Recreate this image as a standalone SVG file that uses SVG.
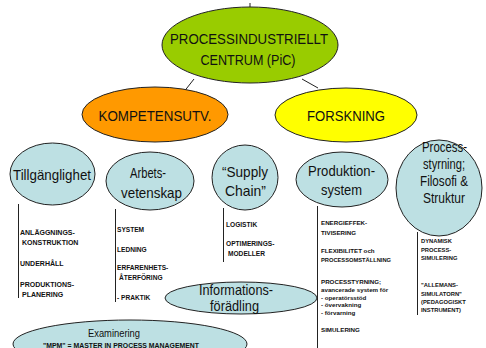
<svg xmlns="http://www.w3.org/2000/svg" width="486" height="348" viewBox="0 0 486 348">
<style>
.n{stroke:#222;stroke-width:1}
.b{fill:#bde0e3}
.t{font-family:"Liberation Sans",Arial,sans-serif;font-size:14.5px;fill:#111;text-anchor:middle}
.s{font-family:"Liberation Sans",Arial,sans-serif;font-weight:bold;fill:#111}
.c{stroke:#222;stroke-width:1;fill:none}
</style>
<rect width="486" height="348" fill="#fff"/>
<g id="connectors">
<line class="c" x1="250" y1="3" x2="250" y2="8"/>
<line class="c" x1="194" y1="79" x2="183" y2="93"/>
<line class="c" x1="302" y1="79" x2="318" y2="88"/>
<line class="c" x1="18.5" y1="204" x2="18.5" y2="298"/>
<line class="c" x1="115.5" y1="209" x2="115.5" y2="302"/>
<line class="c" x1="223.5" y1="208" x2="223.5" y2="262"/>
<line class="c" x1="317.5" y1="206" x2="317.5" y2="348"/>
<line class="c" x1="417.5" y1="232" x2="417.5" y2="315"/>
</g>
<g id="pic">
<ellipse class="n" cx="250" cy="45" rx="88" ry="38" fill="#99cc00"/>
<text class="t" x="249" y="43.5" textLength="158" lengthAdjust="spacingAndGlyphs">PROCESSINDUSTRIELLT</text>
<text class="t" x="248" y="64.5" textLength="95" lengthAdjust="spacingAndGlyphs">CENTRUM (PiC)</text>
</g>
<g id="kompetens">
<ellipse class="n" cx="155" cy="114.5" rx="73" ry="27.5" fill="#ff9900"/>
<text class="t" x="155" y="120.5" textLength="113" lengthAdjust="spacingAndGlyphs">KOMPETENSUTV.</text>
</g>
<g id="forskning">
<ellipse class="n" cx="346" cy="115" rx="71" ry="27" fill="#ffff00"/>
<text class="t" x="346" y="120.5" textLength="78" lengthAdjust="spacingAndGlyphs">FORSKNING</text>
</g>
<g id="tillganglighet">
<ellipse class="n b" cx="52.5" cy="174" rx="42.5" ry="31"/>
<text class="t" x="52" y="180" textLength="78" lengthAdjust="spacingAndGlyphs">Tillgänglighet</text>
</g>
<g id="arbetsvetenskap">
<ellipse class="n b" cx="150" cy="181" rx="44" ry="29"/>
<text class="t" x="148" y="178" textLength="36" lengthAdjust="spacingAndGlyphs">Arbets-</text>
<text class="t" x="151.5" y="198" textLength="61" lengthAdjust="spacingAndGlyphs">vetenskap</text>
</g>
<g id="supplychain">
<ellipse class="n b" cx="245" cy="177.5" rx="33" ry="32.5"/>
<text class="t" x="245" y="177" textLength="46" lengthAdjust="spacingAndGlyphs">“Supply</text>
<text class="t" x="245.5" y="196" textLength="41" lengthAdjust="spacingAndGlyphs">Chain”</text>
</g>
<g id="produktionsystem">
<ellipse class="n b" cx="342" cy="179.5" rx="46" ry="27.5"/>
<text class="t" x="341.5" y="176" textLength="67" lengthAdjust="spacingAndGlyphs">Produktion-</text>
<text class="t" x="341.5" y="195" textLength="41" lengthAdjust="spacingAndGlyphs">system</text>
</g>
<g id="processtyrning">
<ellipse class="n b" cx="439" cy="188" rx="43" ry="48"/>
<text class="t" x="444.5" y="152" textLength="45" lengthAdjust="spacingAndGlyphs">Process-</text>
<text class="t" x="444" y="168.5" textLength="42" lengthAdjust="spacingAndGlyphs">styrning;</text>
<text class="t" x="444" y="185.5" textLength="48" lengthAdjust="spacingAndGlyphs">Filosofi &amp;</text>
<text class="t" x="444" y="202.5" textLength="42" lengthAdjust="spacingAndGlyphs">Struktur</text>
</g>
<g id="informationsforadling">
<ellipse class="n b" cx="241" cy="298" rx="76" ry="16"/>
<text class="t" x="236" y="295" textLength="74" lengthAdjust="spacingAndGlyphs">Informations-</text>
<text class="t" x="234.5" y="310.5" textLength="49" lengthAdjust="spacingAndGlyphs">förädling</text>
</g>
<g id="examinering">
<ellipse class="n b" cx="130" cy="344" rx="117" ry="24"/>
<text class="t" x="114" y="336.5" style="font-size:11.5px" textLength="52" lengthAdjust="spacingAndGlyphs">Examinering</text>
<text class="s" x="43" y="347.5" style="font-size:6.4px" textLength="156" lengthAdjust="spacingAndGlyphs">"MPM" = MASTER IN PROCESS MANAGEMENT</text>
</g>
<g id="list1" class="s" style="font-size:7px">
<text x="20" y="235">ANLÄGGNINGS-</text>
<text x="22" y="245">KONSTRUKTION</text>
<text x="20" y="266">UNDERHÅLL</text>
<text x="20" y="287">PRODUKTIONS-</text>
<text x="22" y="297">PLANERING</text>
</g>
<g id="list2" class="s" style="font-size:6.6px">
<text x="117" y="232">SYSTEM</text>
<text x="117" y="252">LEDNING</text>
<text x="117" y="270">ERFARENHETS-</text>
<text x="119" y="280">ÅTERFÖRING</text>
<text x="117" y="300">- PRAKTIK</text>
</g>
<g id="list3" class="s" style="font-size:6.6px">
<text x="226" y="227">LOGISTIK</text>
<text x="226" y="246">OPTIMERINGS-</text>
<text x="228" y="256">MODELLER</text>
</g>
<g id="list4" class="s" style="font-size:6.2px">
<text x="321" y="225">ENERGIEFFEK-</text>
<text x="321" y="235">TIVISERING</text>
<text x="321" y="253">FLEXIBILITET och</text>
<text x="321" y="261.5" textLength="70" lengthAdjust="spacingAndGlyphs">PROCESSOMSTÄLLNING</text>
<text x="321" y="284">PROCESSTYRNING;</text>
<text x="321" y="292">avancerade system för</text>
<text x="321" y="299.5">- operatörsstöd</text>
<text x="321" y="307">- övervakning</text>
<text x="321" y="315">- förvarning</text>
<text x="321" y="332">SIMULERING</text>
</g>
<g id="list5" class="s" style="font-size:5.8px">
<text x="421" y="243">DYNAMISK</text>
<text x="421" y="251.5">PROCESS-</text>
<text x="421" y="260">SIMULERING</text>
<text x="421" y="287">"ALLEMANS-</text>
<text x="421" y="295.5">SIMULATORN"</text>
<text x="421" y="304">(PEDAGOGISKT</text>
<text x="421" y="312">INSTRUMENT)</text>
</g>
</svg>
